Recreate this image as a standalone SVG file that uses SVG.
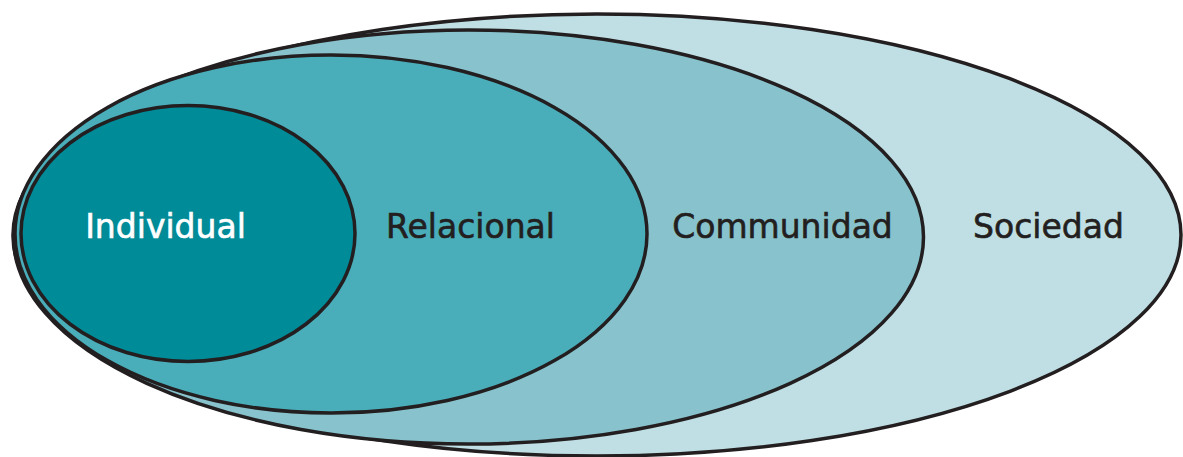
<svg xmlns="http://www.w3.org/2000/svg" width="1183" height="457" viewBox="0 0 1183 457">
<style>
.ring{stroke:#231f20;stroke-width:3.5}
.lbl{font-family:"DejaVu Sans",sans-serif;font-size:33px;fill:#231f20;stroke:#231f20;stroke-width:0.6;text-anchor:middle}
.lbl.light{fill:#ffffff;stroke:#ffffff}
</style>
<rect width="1183" height="457" fill="#ffffff"/>
<g id="sociedad">
<ellipse class="ring" cx="597" cy="235" rx="584" ry="221" fill="#c0dfe4"/>
<text class="lbl" x="1048.5" y="238">Sociedad</text>
</g>
<g id="communidad">
<ellipse class="ring" cx="468.5" cy="237" rx="455" ry="207" fill="#88c3cd"/>
<text class="lbl" x="782.5" y="238">Communidad</text>
</g>
<g id="relacional">
<ellipse class="ring" cx="331" cy="234" rx="316" ry="179" fill="#4aaeba"/>
<text class="lbl" x="470.5" y="238">Relacional</text>
</g>
<g id="individual">
<ellipse class="ring" cx="188" cy="233.5" rx="167" ry="128" fill="#008b98"/>
<text class="lbl light" x="165.5" y="238">Individual</text>
</g>
<g id="connectors"></g>
</svg>
